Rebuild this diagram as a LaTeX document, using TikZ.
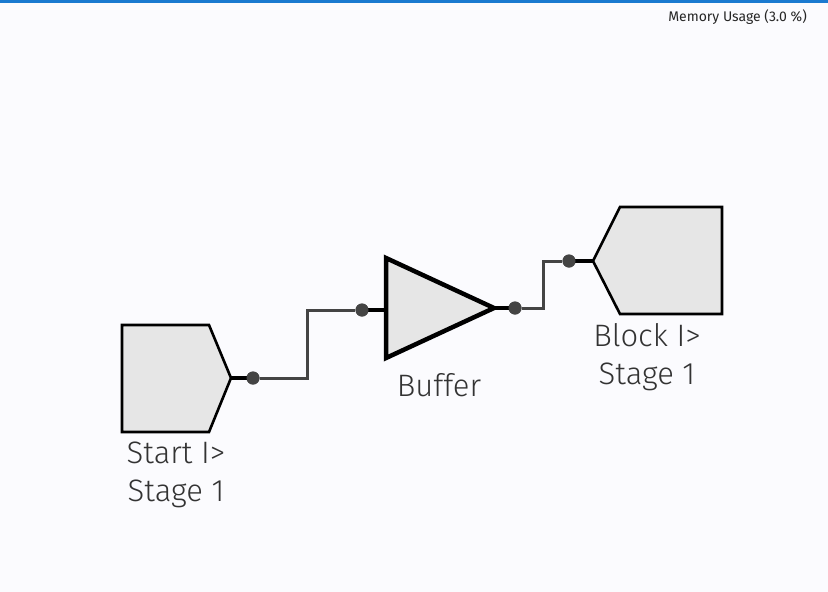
\documentclass[tikz,border=0pt]{standalone}
\usepackage{fontspec}
\setmainfont{Fira Sans Light}
\newfontfamily\smallfont{Fira Sans}
\definecolor{bgc}{HTML}{FBFBFE}
\definecolor{topc}{HTML}{1A7AD0}
\definecolor{fillc}{HTML}{E6E6E6}
\definecolor{wirec}{HTML}{444444}
\definecolor{txtc}{HTML}{333333}
\tikzset{
  blockshape/.style={draw=black, line width=2.6pt, fill=fillc, line join=miter},
  wire/.style={draw=wirec, line width=3pt},
  stub/.style={draw=black, line width=4.5pt},
  pin/.style={circle, fill=wirec, inner sep=0pt, minimum size=13pt},
  lbl/.style={text=txtc, font=\fontsize{31}{38}\selectfont, align=center, inner sep=0pt},
}
\begin{document}
\begin{tikzpicture}[x=1pt,y=-1pt]
\fill[bgc] (0,0) rectangle (828,592);
\useasboundingbox (0,0) rectangle (828,592);
\fill[topc] (0,0) rectangle (828,2.5);
\node[anchor=east, text=black!85, font=\smallfont\fontsize{14}{16}\selectfont, inner sep=0pt] (mem) at (807,17) {Memory Usage (3.0 \%)};

% Start block
\draw[blockshape] (122,325) -- (209,325) -- (231,378) -- (209,432) -- (122,432) -- cycle;
\coordinate (sout) at (231,378);
\node[pin] (p1) at (253,378) {};
\node[lbl] (slbl) at (176,475) {Start I>\\Stage 1};

% Buffer
\draw[blockshape, line width=4.5pt] (386,258) -- (494,308) -- (386,358) -- cycle;
\coordinate (bin) at (386,310);
\coordinate (bout) at (494,308);
\node[pin] (p2) at (362,310) {};
\node[pin] (p3) at (515,308) {};
\node[lbl] (blbl) at (439,385) {Buffer};

% Block
\draw[blockshape] (593,261) -- (620,207) -- (722,207) -- (722,314) -- (620,314) -- cycle;
\coordinate (kin) at (593,261);
\node[pin] (p4) at (569,261) {};
\node[lbl] (klbl) at (647,357) {Block I>\\Stage 1};

% wires
\draw[stub] (sout) -- (p1.center);
\draw[stub] (p2.center) -- (bin);
\draw[stub] (bout) -- (p3.center);
\draw[stub] (p4.center) -- (kin);
\draw[wire] (p1) -- (307,378) -- (307,310) -- (p2);
\draw[wire] (p3) -- (543,308) -- (543,261) -- (p4);
\node[pin] at (p1) {};
\node[pin] at (p2) {};
\node[pin] at (p3) {};
\node[pin] at (p4) {};
\end{tikzpicture}
\end{document}
